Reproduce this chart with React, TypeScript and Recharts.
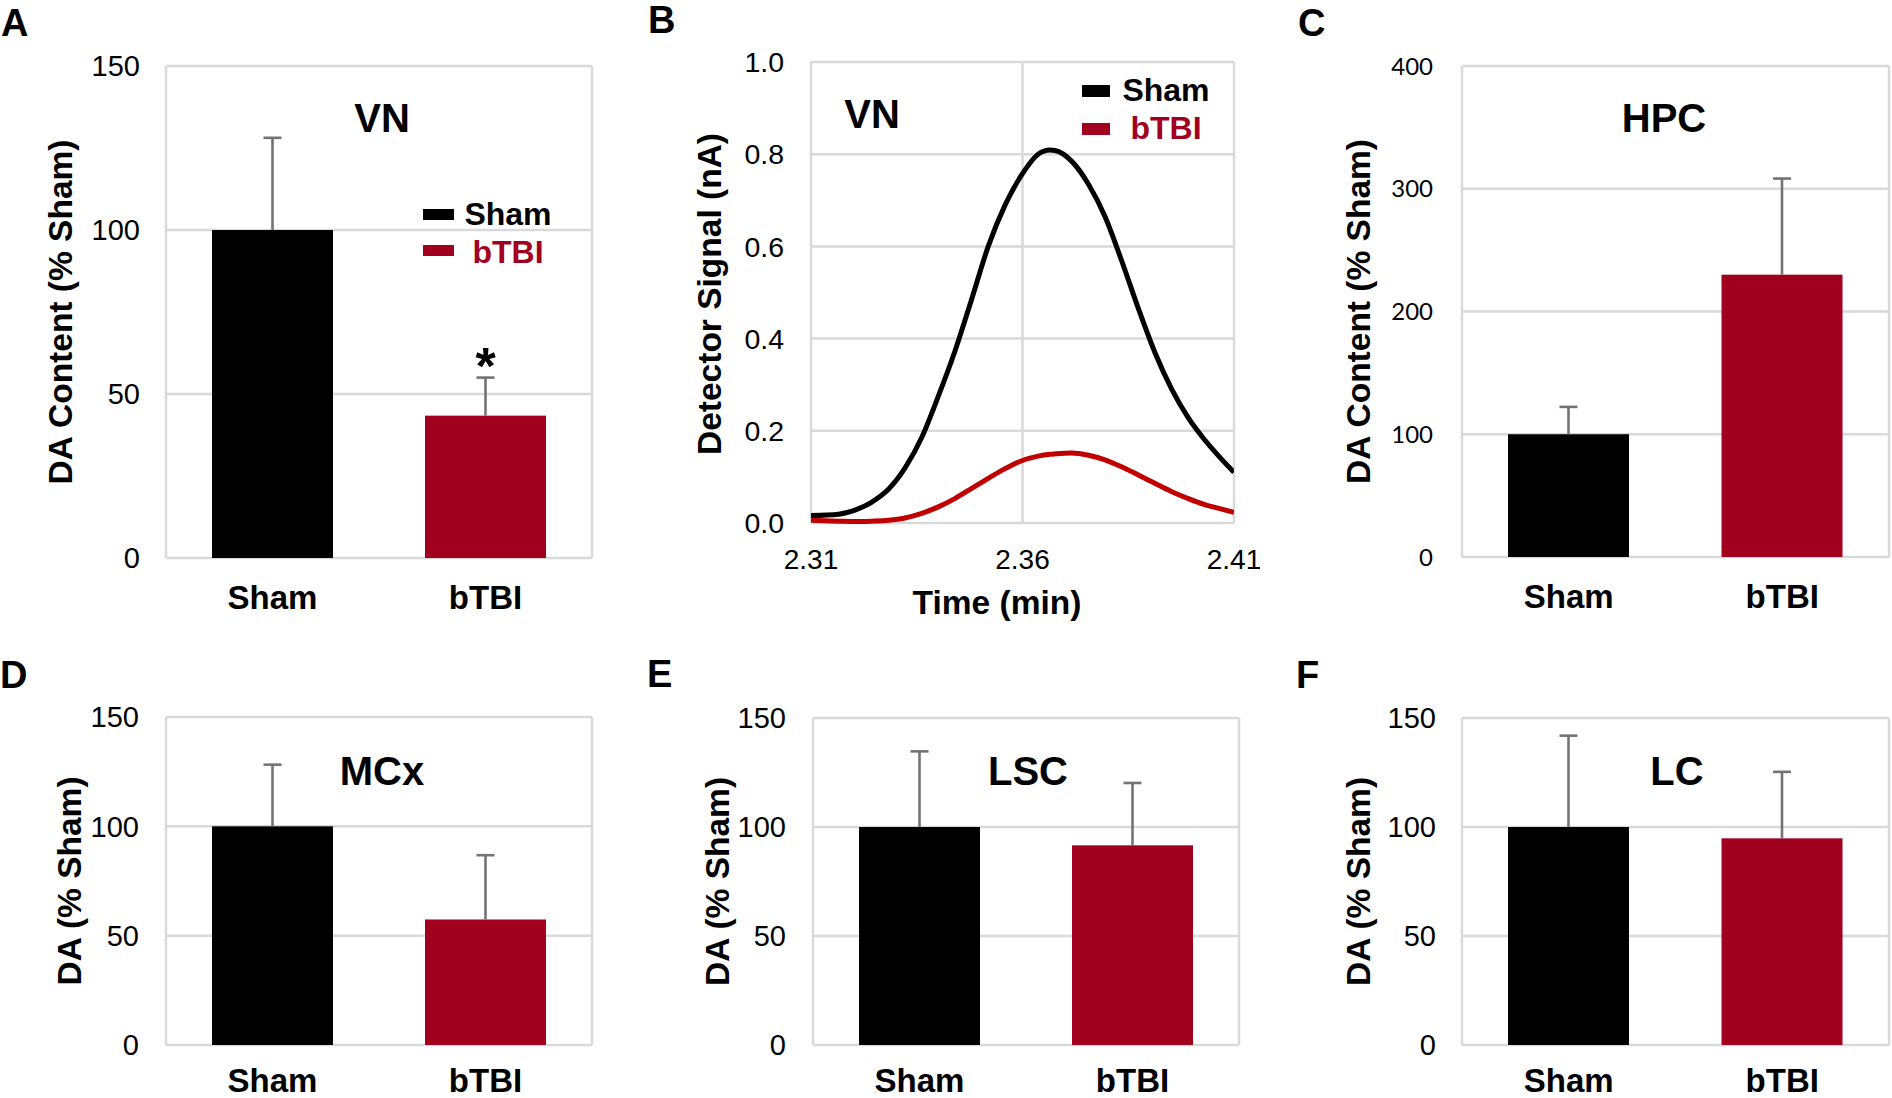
import React from 'react';
import {
  BarChart,
  Bar,
  XAxis,
  YAxis,
  CartesianGrid,
  LineChart,
  Line,
  Legend,
  Label,
} from 'recharts';

// ---------------- data ----------------
const groups = ['Sham', 'bTBI'];

// A – VN
const vnMeans = [100, 43.4];
const vnErr = [28.1, 11.6];
const vnMarks = ['', '*'];

// C – HPC
const hpcMeans = [100, 230];
const hpcErr = [22.3, 78.3];

// D – MCx
const mcxMeans = [100, 57.4];
const mcxErr = [28.2, 29.4];

// E – LSC
const lscMeans = [100, 91.6];
const lscErr = [34.7, 28.6];

// F – LC
const lcMeans = [100, 94.8];
const lcErr = [41.9, 30.5];

const pctTicks = [0, 50, 100, 150];
const hpcTicks = [0, 100, 200, 300, 400];

// B – chromatogram (VN)
const timeMin = [2.31, 2.3165, 2.3204, 2.3243, 2.3283, 2.3322, 2.3362, 2.3401, 2.344, 2.348, 2.3519, 2.3559, 2.3598, 2.3637, 2.3665, 2.3677, 2.3716, 2.3756, 2.3795, 2.3834, 2.3874, 2.3913, 2.3953, 2.3992, 2.4031, 2.4071, 2.41];
const shamSignal = [0.016, 0.019, 0.028, 0.045, 0.073, 0.119, 0.186, 0.275, 0.372, 0.486, 0.6, 0.69, 0.755, 0.8, 0.809, 0.808, 0.785, 0.735, 0.665, 0.57, 0.465, 0.37, 0.29, 0.228, 0.18, 0.138, 0.11];
const btbiSignal = [0.006, 0.004, 0.003, 0.004, 0.006, 0.011, 0.021, 0.035, 0.053, 0.075, 0.097, 0.118, 0.135, 0.145, 0.149, 0.15, 0.152, 0.147, 0.137, 0.122, 0.104, 0.086, 0.068, 0.053, 0.04, 0.03, 0.023];
const signalTicks = [0, 0.2, 0.4, 0.6, 0.8, 1.0];
const timeTicks = [2.31, 2.36, 2.41];

const panelLetters = ['A', 'B', 'C', 'D', 'E', 'F'];
const regionNames = ['VN', 'VN', 'HPC', 'MCx', 'LSC', 'LC'];

// ---------------- styles ----------------
const ARIAL = "'Liberation Sans', Arial, Helvetica, sans-serif";
const CALIBRI = "Lato, Carlito, Calibri, 'Liberation Sans', sans-serif";
const BAR_COLORS = ['#000000', '#A1001F'];
const LINE_COLORS = ['#000000', '#C00000'];
const GRID = '#D9D9D9';
const ERR = '#737373';

const letterPos = [
  [1, 36], [648, 33], [1298, 36], [0, 688], [647, 687], [1296, 688],
];
const titlePos = [
  [382, 132], [872, 128], [1664, 132], [382, 785], [1028, 785], [1677, 785],
];

const frameEdges = (args: any) => {
  const o = args && args.offset;
  return o ? [o.left, o.left + o.width] : [];
};

const BarWithError = (props: any) => {
  const { x, y, width, height, payload, index } = props;
  if (!payload || !height) return null;
  const unit = height / payload.mean;
  const top = y - payload.err * unit;
  const cx = x + width / 2;
  return (
    <g>
      <rect x={x} y={y} width={width} height={height} fill={BAR_COLORS[index]} />
      <line x1={cx} y1={y} x2={cx} y2={top} stroke={ERR} strokeWidth={2.6} />
      <line x1={cx - 9} y1={top} x2={cx + 9} y2={top} stroke={ERR} strokeWidth={2.6} />
      {payload.mark ? (
        <text x={cx} y={top + 6} textAnchor="middle" fontFamily={ARIAL} fontWeight="bold" fontSize={52} fill="#000">
          {payload.mark}
        </text>
      ) : null}
    </g>
  );
};

const rotatedTitle = (text: string, x: number, cy: number) => () => (
  <text
    x={x}
    y={cy}
    transform={`rotate(-90 ${x} ${cy})`}
    textAnchor="middle"
    fontFamily={ARIAL}
    fontWeight="bold"
    fontSize={33.5}
    fill="#000"
  >
    {text}
  </text>
);

const legendSvg = (
  names: string[],
  rectW: number,
  rectH: number,
  rectYs: number[],
  textCx: number,
  baselines: number[],
) => () => (
  <svg width={200} height={90} style={{ display: 'block', overflow: 'visible' }}>
    {names.map((n, i) => (
      <g key={n}>
        <rect x={0} y={rectYs[i]} width={rectW} height={rectH} fill={BAR_COLORS[i]} />
        <text
          x={textCx}
          y={baselines[i]}
          textAnchor="middle"
          fontFamily={ARIAL}
          fontWeight="bold"
          fontSize={32}
          fill={BAR_COLORS[i]}
        >
          {n}
        </text>
      </g>
    ))}
  </svg>
);

type PanelProps = {
  left: number;
  top: number;
  width: number;
  height: number;
  plot: { l: number; r: number; t: number; b: number };
  means: number[];
  errs: number[];
  marks?: string[];
  yMax: number;
  ticks: number[];
  tickFont: string;
  tickFontSize: number;
  tickGap: number;
  xTickGap: number;
  yLabel: string;
  yLabelX: number;
  legend?: boolean;
};

function BarPanel(p: PanelProps) {
  const data = groups.map((g, i) => ({
    group: g,
    mean: p.means[i],
    err: p.errs[i],
    mark: p.marks ? p.marks[i] : '',
  }));
  const xAxisH = 50;
  return (
    <div style={{ position: 'absolute', left: p.left, top: p.top }}>
      <BarChart
        width={p.width}
        height={p.height}
        data={data}
        margin={{ top: p.plot.t, right: p.width - p.plot.r, left: 0, bottom: p.height - p.plot.b - xAxisH }}
      >
        <CartesianGrid stroke={GRID} strokeWidth={2.5} verticalCoordinatesGenerator={frameEdges} />
        <XAxis
          dataKey="group"
          height={xAxisH}
          axisLine={false}
          tickLine={false}
          tickSize={0}
          tickMargin={p.xTickGap}
          interval={0}
          tick={{ fill: '#000', fontSize: 33, fontWeight: 'bold', fontFamily: ARIAL }}
        />
        <YAxis
          width={p.plot.l}
          type="number"
          domain={[0, p.yMax]}
          ticks={p.ticks}
          interval={0}
          axisLine={false}
          tickLine={false}
          tickSize={0}
          tickMargin={p.tickGap}
          tick={{ fill: '#000', fontSize: p.tickFontSize, fontFamily: p.tickFont }}
        >
          <Label content={rotatedTitle(p.yLabel, p.yLabelX, (p.plot.t + p.plot.b) / 2)} />
        </YAxis>
        <Bar dataKey="mean" barSize={121} isAnimationActive={false} shape={BarWithError} />
        {p.legend ? (
          <Legend
            layout="vertical"
            align="center"
            verticalAlign="middle"
            wrapperStyle={{ left: 423, top: 200, width: 200, height: 90 }}
            content={legendSvg(groups, 31, 11, [9, 45], 85, [25, 63])}
          />
        ) : null}
      </BarChart>
    </div>
  );
}

function ChromatogramPanel() {
  const data = timeMin.map((t, i) => ({ t, sham: shamSignal[i], btbi: btbiSignal[i] }));
  const W = 630;
  const H = 640;
  const plot = { l: 181, r: 604, t: 62, b: 523 };
  return (
    <div style={{ position: 'absolute', left: 630, top: 0 }}>
      <LineChart
        width={W}
        height={H}
        data={data}
        margin={{ top: plot.t, right: W - plot.r, left: 0, bottom: H - plot.b - 60 }}
      >
        <CartesianGrid stroke={GRID} strokeWidth={2.5} />
        <XAxis
          dataKey="t"
          type="number"
          domain={[2.31, 2.41]}
          allowDataOverflow
          ticks={timeTicks}
          interval={0}
          tickFormatter={(v: number) => v.toFixed(2)}
          height={60}
          axisLine={false}
          tickLine={false}
          tickSize={0}
          tickMargin={26}
          tick={{ fill: '#000', fontSize: 28, fontFamily: ARIAL }}
        >
          <Label
            content={() => (
              <text x={367} y={614} textAnchor="middle" fontFamily={ARIAL} fontWeight="bold" fontSize={33.5} fill="#000">
                Time (min)
              </text>
            )}
          />
        </XAxis>
        <YAxis
          width={plot.l}
          type="number"
          domain={[0, 1]}
          ticks={signalTicks}
          interval={0}
          tickFormatter={(v: number) => v.toFixed(1)}
          axisLine={false}
          tickLine={false}
          tickSize={0}
          tickMargin={27}
          tick={{ fill: '#000', fontSize: 28.5, fontFamily: ARIAL }}
        >
          <Label content={rotatedTitle('Detector Signal (nA)', 91, 294)} />
        </YAxis>
        <Line
          dataKey="sham"
          name="Sham"
          type="monotone"
          stroke={LINE_COLORS[0]}
          strokeWidth={5}
          dot={false}
          activeDot={false}
          isAnimationActive={false}
        />
        <Line
          dataKey="btbi"
          name="bTBI"
          type="monotone"
          stroke={LINE_COLORS[1]}
          strokeWidth={5}
          dot={false}
          activeDot={false}
          isAnimationActive={false}
        />
        <Legend
          layout="vertical"
          align="center"
          verticalAlign="middle"
          wrapperStyle={{ left: 452, top: 75, width: 200, height: 90 }}
          content={legendSvg(groups, 28, 12, [10, 48], 84, [26, 64])}
        />
      </LineChart>
    </div>
  );
}

export default function App() {
  return (
    <div style={{ position: 'absolute', left: 0, top: 0, width: 1892, height: 1098, background: '#fff', overflow: 'hidden' }}>
      <BarPanel
        left={0} top={0} width={630} height={640}
        plot={{ l: 166, r: 592, t: 66, b: 558 }}
        means={vnMeans} errs={vnErr} marks={vnMarks}
        yMax={150} ticks={pctTicks} tickFont={ARIAL} tickFontSize={29} tickGap={26} xTickGap={28}
        yLabel="DA Content (% Sham)" yLabelX={72} legend
      />
      <ChromatogramPanel />
      <BarPanel
        left={1260} top={0} width={632} height={640}
        plot={{ l: 202, r: 629, t: 66, b: 557 }}
        means={hpcMeans} errs={hpcErr}
        yMax={400} ticks={hpcTicks} tickFont={CALIBRI} tickFontSize={24} tickGap={29} xTickGap={28}
        yLabel="DA Content (% Sham)" yLabelX={110}
      />
      <BarPanel
        left={0} top={640} width={630} height={458}
        plot={{ l: 166, r: 592, t: 77, b: 405 }}
        means={mcxMeans} errs={mcxErr}
        yMax={150} ticks={pctTicks} tickFont={ARIAL} tickFontSize={29} tickGap={27} xTickGap={24}
        yLabel="DA (% Sham)" yLabelX={81}
      />
      <BarPanel
        left={630} top={640} width={630} height={458}
        plot={{ l: 183, r: 609, t: 78, b: 405 }}
        means={lscMeans} errs={lscErr}
        yMax={150} ticks={pctTicks} tickFont={ARIAL} tickFontSize={29} tickGap={27} xTickGap={24}
        yLabel="DA (% Sham)" yLabelX={99}
      />
      <BarPanel
        left={1260} top={640} width={632} height={458}
        plot={{ l: 202, r: 629, t: 78, b: 405 }}
        means={lcMeans} errs={lcErr}
        yMax={150} ticks={pctTicks} tickFont={ARIAL} tickFontSize={29} tickGap={26} xTickGap={24}
        yLabel="DA (% Sham)" yLabelX={110}
      />
      <svg
        width={1892}
        height={1098}
        style={{ position: 'absolute', left: 0, top: 0, pointerEvents: 'none' }}
      >
        {panelLetters.map((l, i) => (
          <text key={l} x={letterPos[i][0]} y={letterPos[i][1]} fontFamily={ARIAL} fontWeight="bold" fontSize={38} fill="#000">
            {l}
          </text>
        ))}
        {regionNames.map((n, i) => (
          <text
            key={`${n}-${i}`}
            x={titlePos[i][0]}
            y={titlePos[i][1]}
            textAnchor="middle"
            fontFamily={ARIAL}
            fontWeight="bold"
            fontSize={40}
            fill="#000"
          >
            {n}
          </text>
        ))}
      </svg>
    </div>
  );
}
